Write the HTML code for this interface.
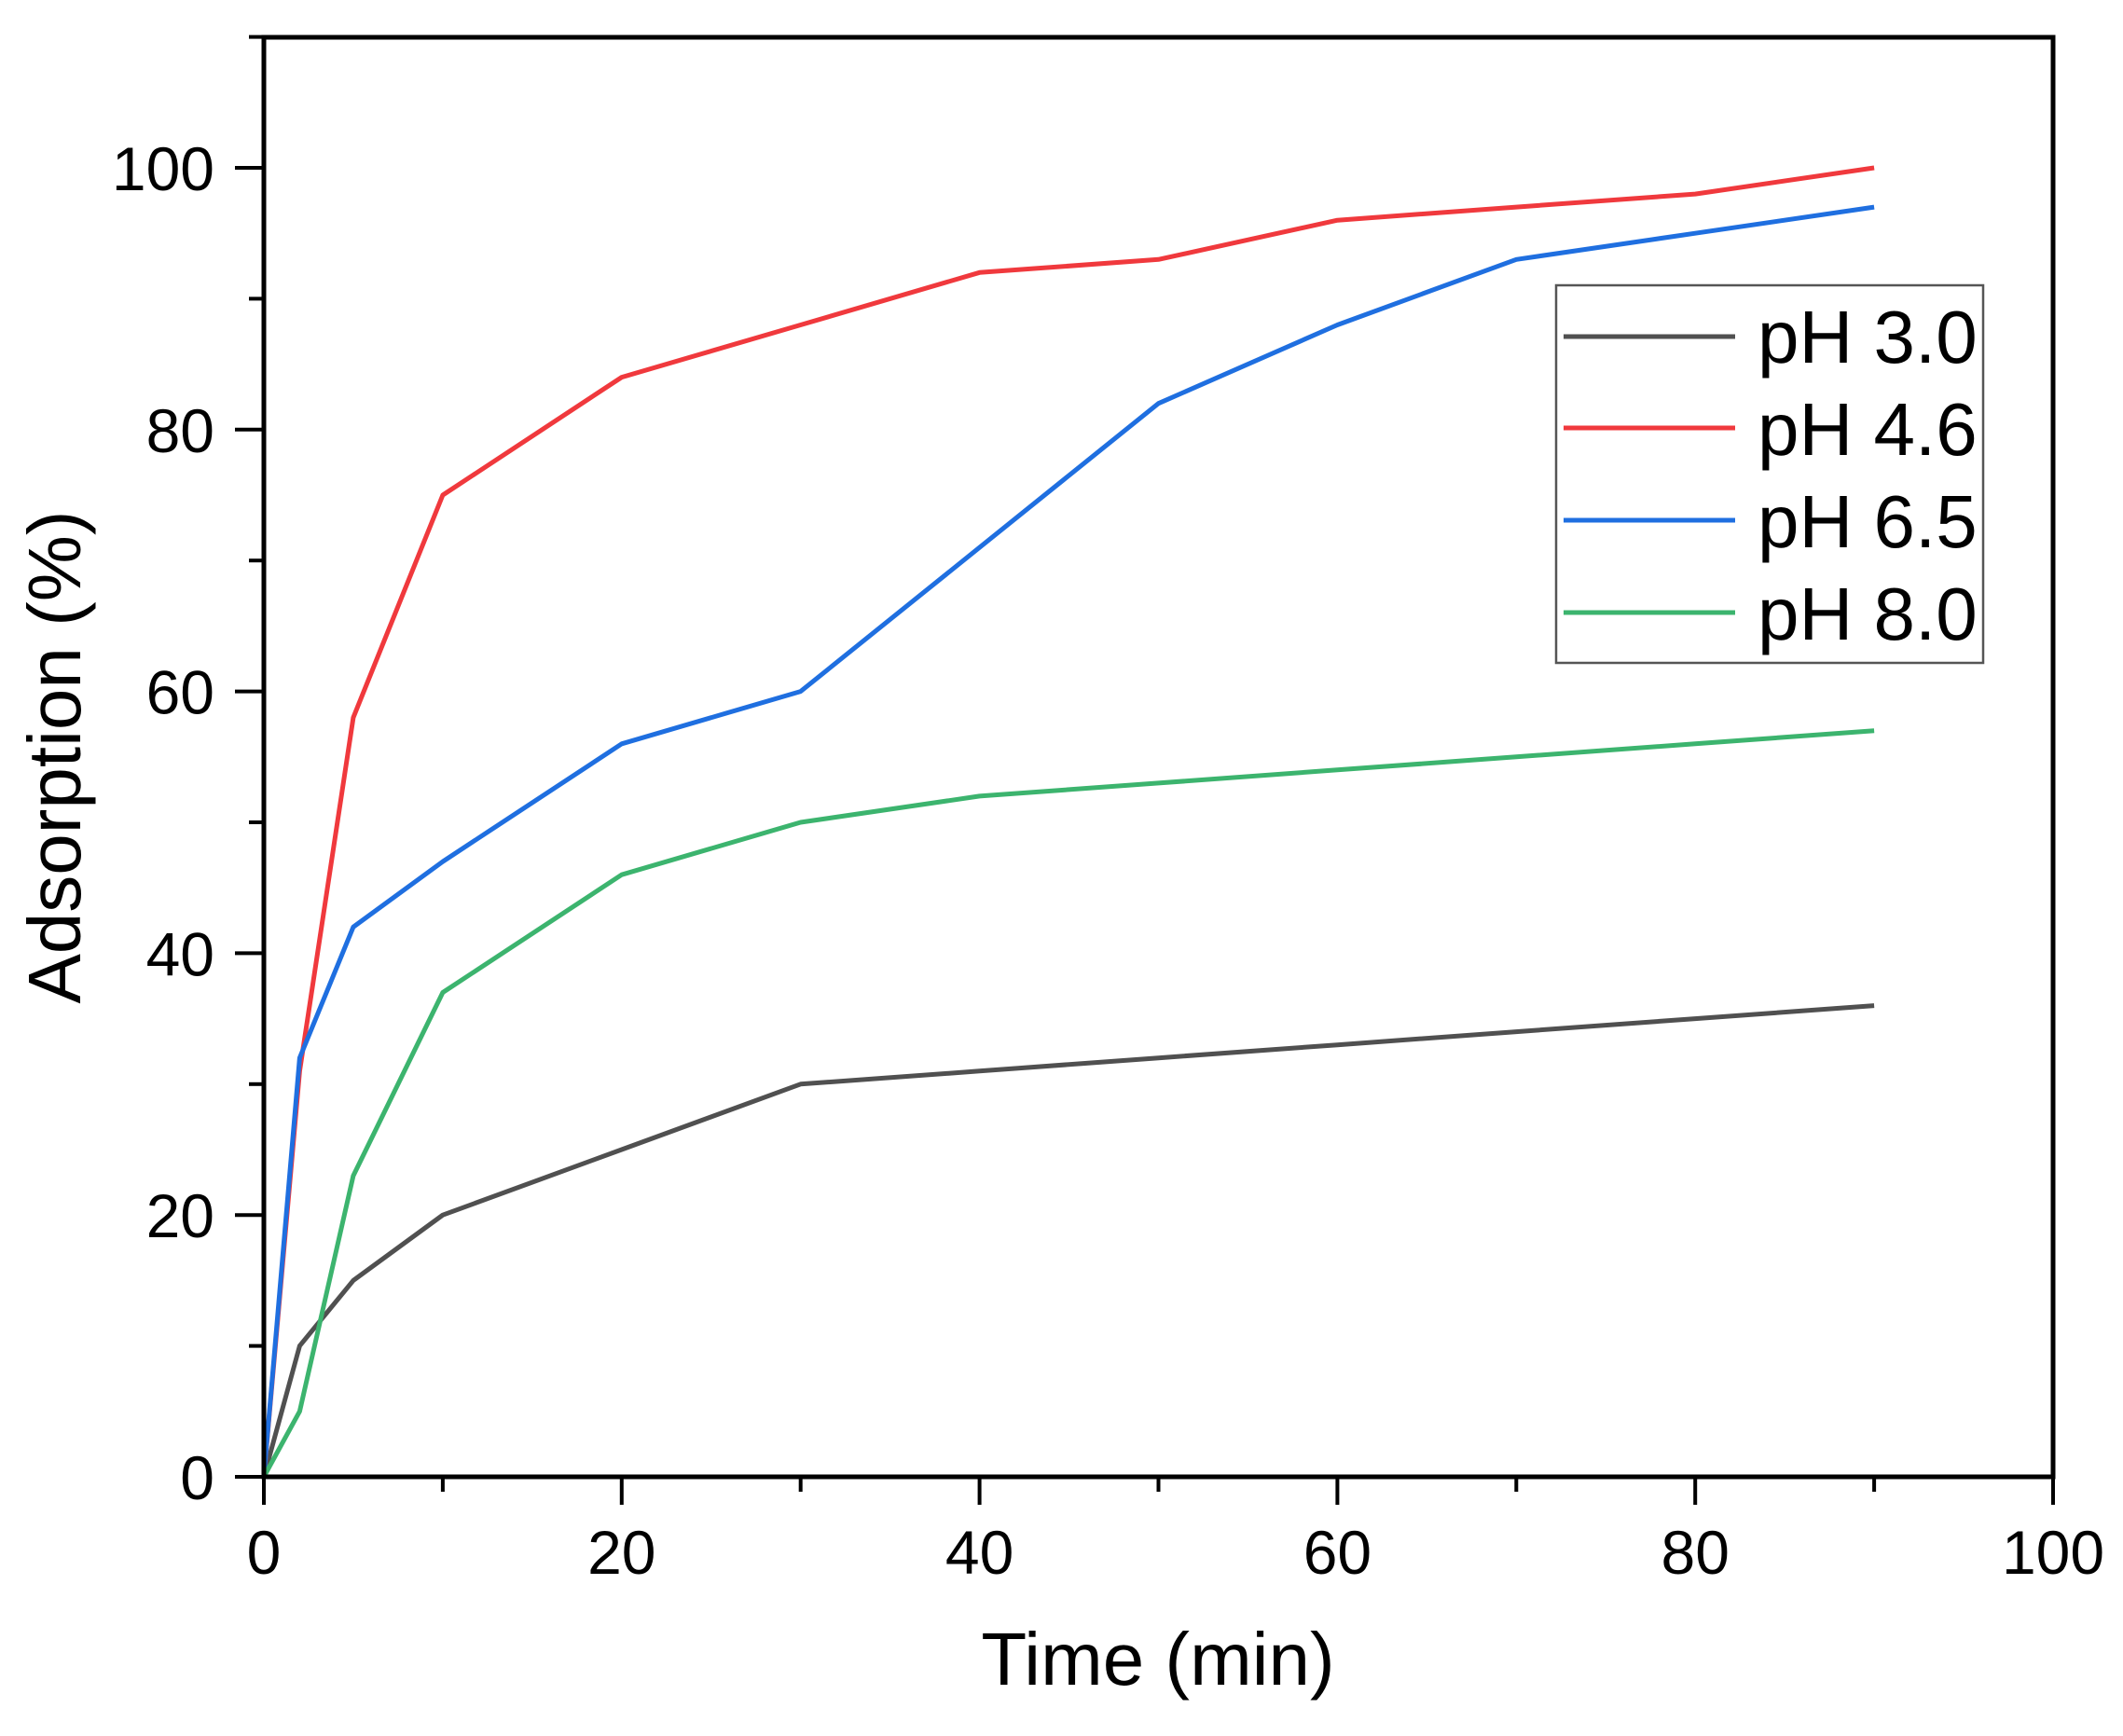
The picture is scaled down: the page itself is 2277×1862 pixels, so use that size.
<!DOCTYPE html>
<html><head><meta charset="utf-8"><style>
html,body{margin:0;padding:0;background:#fff;}
svg{display:block;font-family:"Liberation Sans",Arial,sans-serif;}
</style></head><body>
<svg id="c" width="2277" height="1862" viewBox="0 0 2277 1862" xmlns="http://www.w3.org/2000/svg">
<rect width="2277" height="1862" fill="#fff"/>
<g id="plot"></g>
<rect x="283" y="40" width="1919" height="1544" fill="none" stroke="#000" stroke-width="5"/>
<g id="ticks" stroke="#000" stroke-width="4"></g>
<g id="labels" font-size="66" fill="#000"></g>
<text x="1242" y="1807" font-size="80" text-anchor="middle">Time (min)</text>
<text transform="translate(86,812) rotate(-90)" font-size="80" text-anchor="middle">Adsorption (%)</text>
<rect x="1669" y="306" width="458" height="405" fill="#fff" stroke="#555" stroke-width="2.5"/>
<g stroke-width="5">
<line x1="1677" y1="361" x2="1861" y2="361" stroke="#505050"/>
<line x1="1677" y1="459" x2="1861" y2="459" stroke="#f0393d"/>
<line x1="1677" y1="558" x2="1861" y2="558" stroke="#1f6fe0"/>
<line x1="1677" y1="657" x2="1861" y2="657" stroke="#3cb46e"/>
</g>
<g font-size="80" fill="#000">
<text x="1885" y="389">pH 3.0</text>
<text x="1885" y="488">pH 4.6</text>
<text x="1885" y="587">pH 6.5</text>
<text x="1885" y="686">pH 8.0</text>
</g>
</svg>
<script>
var X=function(v){return 283+v*19.19;},Y=function(v){return 1584-v*14.04;};
var xs=[0,2,5,10,20,30,40,50,60,70,80,90];
var S=[["#505050",[0,10,15,20,25,30,31,32,33,34,35,36]],
["#f0393d",[0,31,58,75,84,88,92,93,96,97,98,100]],
["#1f6fe0",[0,32,42,47,56,60,71,82,88,93,95,97]],
["#3cb46e",[0,5,23,37,46,50,52,53,54,55,56,57]]];
var ns="http://www.w3.org/2000/svg",g=document.getElementById("plot");
S.forEach(function(s){var p=document.createElementNS(ns,"polyline");
p.setAttribute("points",xs.map(function(x,i){return X(x).toFixed(1)+","+Y(s[1][i]).toFixed(1);}).join(" "));
p.setAttribute("fill","none");p.setAttribute("stroke",s[0]);p.setAttribute("stroke-width","5");p.setAttribute("stroke-linejoin","round");g.appendChild(p);});
var t=document.getElementById("ticks"),l=document.getElementById("labels");
function ln(a,b,c,d){var e=document.createElementNS(ns,"line");e.setAttribute("x1",a);e.setAttribute("y1",b);e.setAttribute("x2",c);e.setAttribute("y2",d);t.appendChild(e);}
function tx(x,y,s,a){var e=document.createElementNS(ns,"text");e.setAttribute("x",x);e.setAttribute("y",y);e.setAttribute("text-anchor",a);e.textContent=s;l.appendChild(e);}
for(var v=0;v<=100;v+=10){var maj=v%20==0;
ln(X(v),1584,X(v),1584+(maj?30:16));
if(maj)tx(X(v),1688,v,"middle");}
for(var v=0;v<=110;v+=10){var maj=v%20==0;
ln(283,Y(v),283-(maj?31:16),Y(v));
if(maj&&v<=100)tx(230,Y(v)+24,v,"end");}
</script>
</body></html>
